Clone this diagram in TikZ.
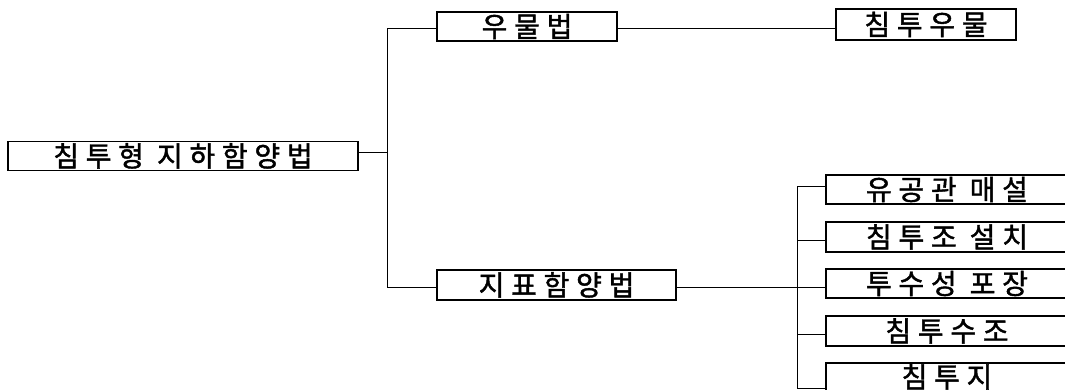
\documentclass[tikz,border=0pt]{standalone}
\usepackage{fontspec}
\newfontfamily\kr{Noto Sans CJK KR}[LetterSpace=24, FakeBold=1.5]
\begin{document}
\begin{tikzpicture}[x=1pt,y=-1pt,
  box/.style={draw, line width=1.2pt, inner sep=0pt, minimum height=29pt,
    text height=23pt, text depth=2pt,
    font=\kr\fontsize{28}{28}\selectfont},
  link/.style={line width=1pt}]
\useasboundingbox (0,0) rectangle (1065,390);
% nodes
\node[box, minimum width=350pt] (root) at (183,156) {침투형 지하함양법};
\node[box, minimum width=180pt] (well) at (527,26.5) {우물법};
\node[box, minimum width=180pt, minimum height=31pt] (infw) at (926,24.5) {침투우물};
\node[box, minimum width=239pt, minimum height=30pt] (surf) at (556.5,285) {지표함양법};
\node[box, minimum width=242pt] (r1) at (947,189.5) {유공관 매설};
\node[box, minimum width=242pt, minimum height=30pt] (r2) at (947,237) {침투조 설치};
\node[box, minimum width=242pt] (r3) at (947,283.5) {투수성 포장};
\node[box, minimum width=242pt, minimum height=30pt] (r4) at (947,331) {침투수조};
\node[box, minimum width=242pt, minimum height=28pt] (r5) at (947,377) {침투지};
% trunk coordinates
\coordinate (ta) at (387,29);
\coordinate (tm) at (387,153);
\coordinate (tb) at (387,287);
\coordinate (s1) at (797,187);
\coordinate (s2) at (797,240);
\coordinate (s3) at (797,287);
\coordinate (s4) at (797,334);
\coordinate (s5) at (797,388);
% connectors
\draw[link] (root.east |- tm) -- (tm);
\draw[link] (ta) -- (tb);
\draw[link] (ta) -- (ta -| well.west);
\draw[link] (tb) -- (tb -| surf.west);
\draw[link] (ta -| well.east) -- (ta -| infw.west);
\draw[link] (tb -| surf.east) -- (s3);
\draw[link] (s1) -- (s5);
\draw[link] (s1) -- (s1 -| r1.west);
\draw[link] (s2) -- (s2 -| r2.west);
\draw[link] (s3) -- (s3 -| r3.west);
\draw[link] (s4) -- (s4 -| r4.west);
\draw[link] (s5) -- (s5 -| r5.west);
\end{tikzpicture}
\end{document}
